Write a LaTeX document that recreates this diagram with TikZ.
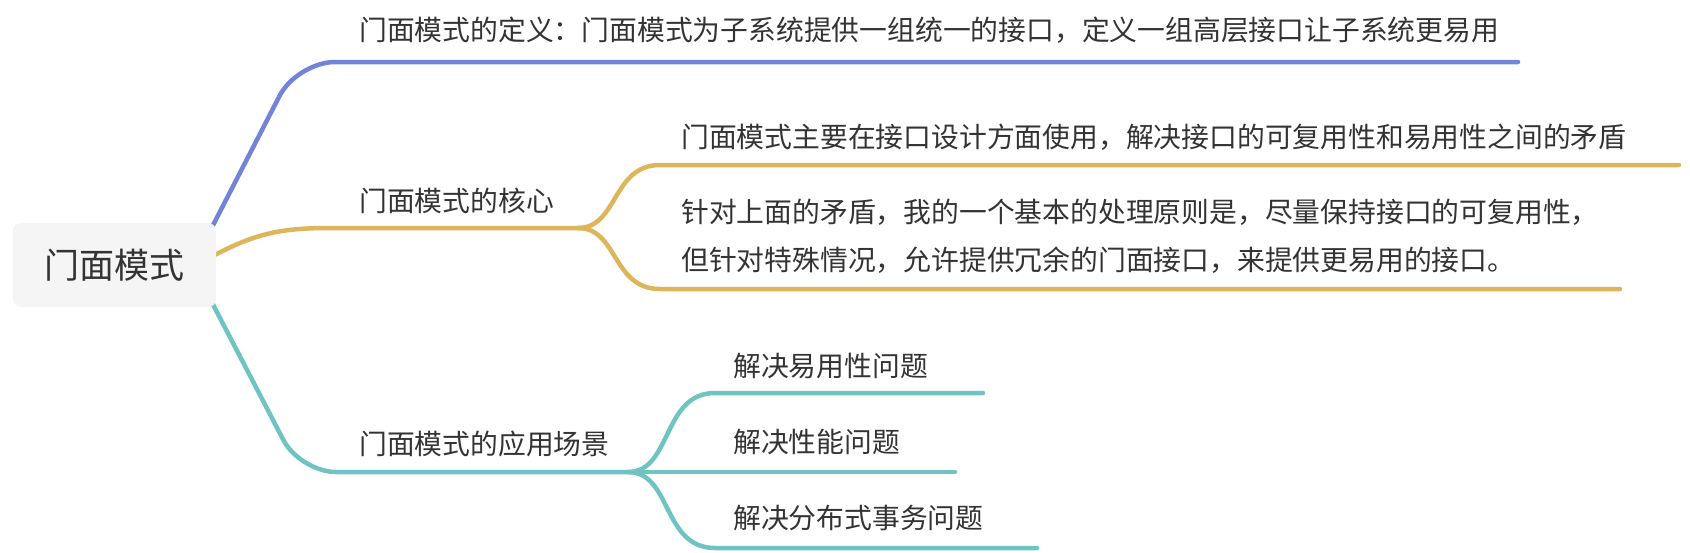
\documentclass[tikz,border=0pt]{standalone}
\usepackage{fontspec}
\setmainfont{Noto Sans CJK SC}
\definecolor{cblue}{HTML}{7383D8}
\definecolor{cgold}{HTML}{DDB65C}
\definecolor{cteal}{HTML}{6FC3C3}
\definecolor{ctext}{HTML}{333333}
\definecolor{rootfill}{HTML}{F5F5F5}
\begin{document}
\begin{tikzpicture}[x=1pt,y=-1pt,
  branch/.style={line width=4.5pt, line cap=round, line join=round},
  lbl/.style={anchor=west, inner sep=0pt, text=ctext, font=\fontsize{27.8}{48.5}\selectfont, align=left},
  rootbox/.style={fill=rootfill, rounded corners=8pt, minimum width=203pt, minimum height=84pt, inner sep=0pt, text=ctext, font=\fontsize{35}{40}\selectfont}]
\useasboundingbox (0,0) rectangle (1690,552);
% branch coordinates
\coordinate (b0) at (192,266);
\coordinate (b1) at (297,62);
\coordinate (b2) at (1518,62);
\coordinate (g0) at (200,263);
\coordinate (g1) at (330,228);
\coordinate (gj) at (578,228);
\coordinate (g2) at (585,228);
\coordinate (ga1) at (660,165);
\coordinate (ga2) at (1679,165);
\coordinate (gb1) at (660,289);
\coordinate (gb2) at (1620,289);
\coordinate (t0) at (193,266);
\coordinate (t1) at (300,472);
\coordinate (tj) at (628,472);
\coordinate (t2) at (640,472);
\coordinate (ta1) at (715,393);
\coordinate (ta2) at (983,393);
\coordinate (tb2) at (955,472);
\coordinate (tc1) at (715,548);
\coordinate (tc2) at (1037,548);
% branches
\draw[branch, cblue, rounded corners=38pt] (b0) -- (b1) -- (b2);
\draw[branch, cgold] (g0) .. controls (250,235) and (275,228) .. (g1) -- (g2);
\draw[branch, cgold] (gj) .. controls (618,228) and (612,165) .. (ga1) -- (ga2);
\draw[branch, cgold] (gj) .. controls (618,228) and (612,289) .. (gb1) -- (gb2);
\draw[branch, cteal, rounded corners=36pt] (t0) -- (t1) -- (t2);
\draw[branch, cteal] (tj) .. controls (672,472) and (662,393) .. (ta1) -- (ta2);
\draw[branch, cteal] (tj) -- (tb2);
\draw[branch, cteal] (tj) .. controls (672,472) and (662,548) .. (tc1) -- (tc2);
% root
\node[rootbox] (root) at (114.5,265) {门面模式};
% labels
\node[lbl] (def) at (359,30) {门面模式的定义：门面模式为子系统提供一组统一的接口，定义一组高层接口让子系统更易用};
\node[lbl] (core) at (359,201) {门面模式的核心};
\node[lbl] (core1) at (681,137) {门面模式主要在接口设计方面使用，解决接口的可复用性和易用性之间的矛盾};
\node[lbl] (core2) at (681,236.5) {针对上面的矛盾，我的一个基本的处理原则是，尽量保持接口的可复用性，\\但针对特殊情况，允许提供冗余的门面接口，来提供更易用的接口。};
\node[lbl] (app) at (359,444) {门面模式的应用场景};
\node[lbl] (app1) at (733,366) {解决易用性问题};
\node[lbl] (app2) at (733,442) {解决性能问题};
\node[lbl] (app3) at (733,518) {解决分布式事务问题};
\end{tikzpicture}
\end{document}
